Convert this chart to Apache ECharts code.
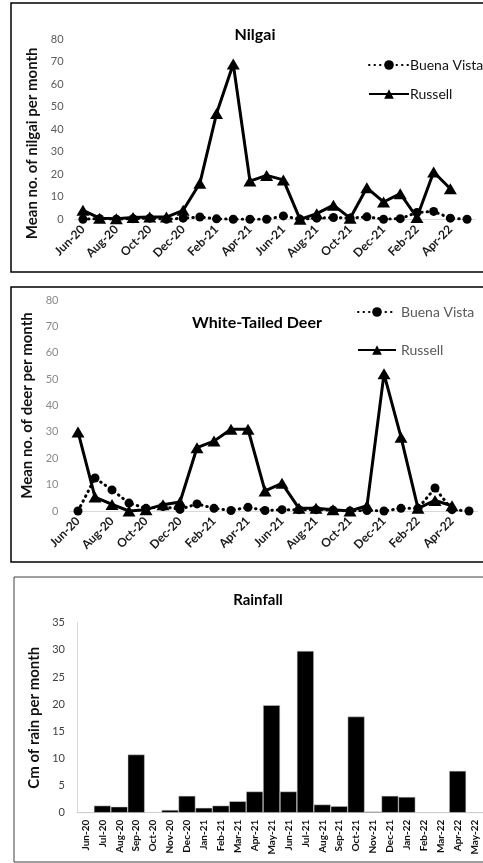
<!DOCTYPE html>
<html><head><meta charset="utf-8">
<script src="https://cdn.jsdelivr.net/npm/echarts@6/dist/echarts.min.js"></script>
<style>html,body{margin:0;padding:0;background:#fff}#c{width:483px;height:863px}</style>
</head><body><div id="c"></div>
<script>
const months = ['Jun-20','Jul-20','Aug-20','Sep-20','Oct-20','Nov-20','Dec-20','Jan-21','Feb-21','Mar-21','Apr-21','May-21','Jun-21','Jul-21','Aug-21','Sep-21','Oct-21','Nov-21','Dec-21','Jan-22','Feb-22','Mar-22','Apr-22','May-22'];
const nilgaiBuenaVista = [0,0.3,0,0.3,0.5,0,0.5,1,0.2,0,0,0,1.5,0,0.5,0.8,0.5,1.1,0,0.3,3,3.5,0.5,0];
const nilgaiRussell = [4,0.5,0.3,0.8,1,1,4,16,47,69,17,19.5,17.5,0,2.5,6.3,0.5,14,7.7,11.4,0.8,21,13.6,null];
const deerBuenaVista = [0,12.5,8,3,1,1.7,0.6,2.7,1,0.2,1.4,0.2,0.5,0.5,0.5,0.3,0,0.2,0,1,1,8.7,0.5,0];
const deerRussell = [30,5.3,2.5,0,0.5,2.4,3.4,24,26.5,31,31,7.6,10.5,1,1,0.5,0,2,52,28,1,4,2,null];
const rainfall = [0,1.3,1.1,10.7,0.1,0.5,3.1,0.9,1.3,2.1,3.9,19.8,3.9,29.8,1.5,1.2,17.7,0.2,3.1,2.9,0,0,7.7,0];
const yTicks = {min:0, max:80, interval:10};
const rainTicks = {min:0, max:35, interval:5};

const FONT = 'Lato';
const chart = echarts.init(document.getElementById('c'), null, {renderer:'canvas'});

function lineX(gi){
  return {type:'category', gridIndex:gi, data:months, boundaryGap:true,
    axisLine:{lineStyle:{color:'#d9d9d9', width:1}}, axisTick:{show:false},
    axisLabel:{interval:1, rotate:45, fontFamily:FONT, fontWeight:'bold', fontSize:12, color:'#1a1a1a', margin:8}};
}
function lineY(gi, name, color, padding){
  return {type:'value', gridIndex:gi, min:yTicks.min, max:yTicks.max, interval:yTicks.interval,
    splitLine:{show:false}, axisLine:{show:false}, axisTick:{show:false},
    axisLabel:{fontFamily:FONT, fontSize:11, color:color, margin:11},
    name:name, nameLocation:'middle', nameGap:29,
    nameTextStyle:{fontFamily:FONT, fontWeight:'bold', fontSize:15, color:'#111', padding:padding}};
}
const bvStyle = {type:'line', symbol:'circle', symbolSize:9, itemStyle:{color:'#000'},
  lineStyle:{color:'#000', width:3, type:[0.5,5], cap:'round'}};
const rsStyle = {type:'line', symbol:'triangle', symbolSize:[13,11], itemStyle:{color:'#000'},
  lineStyle:{color:'#000', width:3}};

chart.setOption({
  animation:false,
  textStyle:{fontFamily:FONT},
  graphic:[
    {type:'rect', shape:{x:11,y:3,width:500,height:269}, style:{fill:'none', stroke:'#000', lineWidth:1.5}, silent:true},
    {type:'rect', shape:{x:11,y:287,width:500,height:275}, style:{fill:'none', stroke:'#000', lineWidth:1.5}, silent:true},
    {type:'rect', shape:{x:14,y:577,width:500,height:285}, style:{fill:'none', stroke:'#404040', lineWidth:1}, silent:true}
  ],
  title:[
    {text:'Nilgai', left:250, top:22, textAlign:'center', textStyle:{fontFamily:FONT, fontWeight:'bold', fontSize:16, color:'#000'}},
    {text:'White-Tailed Deer', left:252, top:310, textAlign:'center', textStyle:{fontFamily:FONT, fontWeight:'bold', fontSize:16, color:'#000'}},
    {text:'Rainfall', left:253, top:588, textAlign:'center', textStyle:{fontFamily:FONT, fontWeight:'bold', fontSize:15, color:'#000'}}
  ],
  legend:[
    {orient:'vertical', left:363, top:53, itemWidth:40, itemHeight:12, itemGap:15, data:['Buena Vista','Russell'],
      textStyle:{fontFamily:FONT, fontSize:14, color:'#111', padding:[0,0,0,-4]}},
    {orient:'vertical', left:352, top:300, itemWidth:38, itemHeight:12, itemGap:24, data:['Buena Vista','Russell'],
      textStyle:{fontFamily:FONT, fontSize:14, color:'#595959', padding:[0,0,0,0]}}
  ],
  grid:[
    {left:74.6, top:39.3, width:400.8, height:180},
    {left:69.5, top:300, width:408, height:211},
    {left:77, top:622.7, width:406, height:190}
  ],
  xAxis:[
    lineX(0), lineX(1),
    {type:'category', gridIndex:2, data:months, boundaryGap:true,
      axisLine:{lineStyle:{color:'#d9d9d9', width:1}}, axisTick:{show:false},
      axisLabel:{interval:0, rotate:90, fontFamily:FONT, fontWeight:'bold', fontSize:10, color:'#111', margin:7}}
  ],
  yAxis:[
    lineY(0, 'Mean no. of nilgai per month', '#595959', [0,28,0,0]),
    lineY(1, 'Mean no. of deer per month', '#8a8a8a', [0,0,0,0]),
    {type:'value', gridIndex:2, min:rainTicks.min, max:rainTicks.max, interval:rainTicks.interval,
      splitLine:{show:false}, axisLine:{show:true, lineStyle:{color:'#d9d9d9'}}, axisTick:{show:false},
      axisLabel:{fontFamily:FONT, fontSize:11, color:'#404040', margin:12},
      name:'Cm of rain per month', nameLocation:'middle', nameGap:34,
      nameTextStyle:{fontFamily:FONT, fontWeight:'bold', fontSize:15, color:'#111'}}
  ],
  series:[
    Object.assign({name:'Buena Vista', xAxisIndex:0, yAxisIndex:0, data:nilgaiBuenaVista}, bvStyle),
    Object.assign({name:'Russell', xAxisIndex:0, yAxisIndex:0, data:nilgaiRussell}, rsStyle),
    Object.assign({name:'Buena Vista', xAxisIndex:1, yAxisIndex:1, data:deerBuenaVista}, bvStyle),
    Object.assign({name:'Russell', xAxisIndex:1, yAxisIndex:1, data:deerRussell}, rsStyle),
    {name:'Rainfall', type:'bar', xAxisIndex:2, yAxisIndex:2, data:rainfall, barCategoryGap:'0%',
      itemStyle:{color:'#000', borderColor:'#cfcfcf', borderWidth:0.5}}
  ]
});
</script></body></html>
